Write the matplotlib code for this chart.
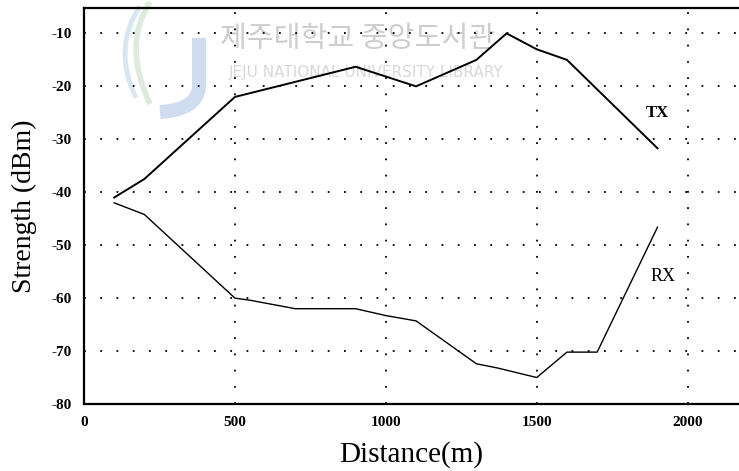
import matplotlib
matplotlib.use("Agg")
import matplotlib.pyplot as plt
from matplotlib.path import Path
from matplotlib.patches import PathPatch

plt.rcParams["axes.unicode_minus"] = False

# Received signal strength along the measurement route
tx_distance = [100, 200, 500, 900, 1100, 1300, 1400, 1500, 1600, 1900]
tx_strength = [-41, -37.5, -22, -16.3, -20, -15, -10, -13, -15, -31.7]

rx_distance = [100, 200, 500, 550, 700, 900, 1000, 1100, 1300, 1370, 1500, 1600, 1700, 1900]
rx_strength = [-42, -44.2, -60, -60.4, -62, -62, -63.3, -64.3, -72.4, -73.2, -75, -70.2, -70.2, -46.6]

x_ticks = [0, 500, 1000, 1500, 2000]
y_ticks = [-80, -70, -60, -50, -40, -30, -20, -10]

serif = ["Liberation Serif", "DejaVu Serif"]

fig = plt.figure(figsize=(7.39, 4.71), dpi=100)
ax = fig.add_axes([84 / 739, 1 - 404 / 471, 1 - 84 / 739, (404 - 8) / 471])

# library logo mark (faint), drawn in figure pixel space
W, H = 739, 471
def fig_xy(px, py):
    return (px / W, 1 - py / H)

j_path = Path([fig_xy(199, 38), fig_xy(199, 88), fig_xy(196, 110), fig_xy(160, 112)],
              [Path.MOVETO, Path.LINETO, Path.CURVE3, Path.CURVE3])
fig.patches.append(PathPatch(j_path, transform=fig.transFigure, fill=False,
                             edgecolor="#d0dcef", lw=10, capstyle="butt", zorder=-1))
sw1 = Path([fig_xy(150, 2), fig_xy(122, 45), fig_xy(150, 104)],
           [Path.MOVETO, Path.CURVE3, Path.CURVE3])
fig.patches.append(PathPatch(sw1, transform=fig.transFigure, fill=False,
                             edgecolor="#dcebdc", lw=4, zorder=-1))
sw2 = Path([fig_xy(140, 6), fig_xy(112, 48), fig_xy(136, 98)],
           [Path.MOVETO, Path.CURVE3, Path.CURVE3])
fig.patches.append(PathPatch(sw2, transform=fig.transFigure, fill=False,
                             edgecolor="#d8e6f2", lw=3.5, zorder=-1))

ax.set_facecolor("none")
ax.plot(tx_distance, tx_strength, color="black", lw=1.4, zorder=3)
ax.plot(rx_distance, rx_strength, color="black", lw=1.0, zorder=3)

ax.set_xlim(0, 2170)
ax.set_ylim(-80, -5.2)
ax.set_xticks(x_ticks)
ax.set_yticks(y_ticks)

# dotted grid at major ticks (skip the bottom/left edge lines)
for x in x_ticks[1:]:
    ax.axvline(x, color="black", lw=1.3, linestyle=(0, (1, 8)), zorder=1)
for y in y_ticks[1:]:
    ax.axhline(y, color="black", lw=1.3, linestyle=(0, (1, 8)), zorder=1)

for s in ("left", "bottom", "top"):
    ax.spines[s].set_linewidth(1.6)
ax.spines["right"].set_visible(False)

ax.tick_params(length=0, pad=9)
for lab in ax.get_xticklabels() + ax.get_yticklabels():
    lab.set_fontfamily(serif)
    lab.set_fontweight("bold")
    lab.set_fontsize(11)

ax.set_xlabel("Distance(m)", fontfamily=serif, fontsize=21, labelpad=8)
ax.set_ylabel("Strength (dBm)", fontfamily=serif, fontsize=20, labelpad=10)

ax.text(1900, -25, "TX", fontfamily=serif, fontweight="bold", fontsize=12,
        ha="center", va="center")
ax.text(1918, -56, "RX", fontfamily=serif, fontsize=13, ha="center", va="center")

# library watermark
fig.text(358 / W, 1 - 39 / H, "제주대학교 중앙도서관", color="#cdcdcd",
         fontfamily=["Noto Sans CJK KR"], fontsize=21,
         ha="center", va="center", zorder=-1)
fig.text(366 / W, 1 - 72 / H, "JEJU NATIONAL UNIVERSITY LIBRARY", color="#d8d8d8",
         fontfamily=["DejaVu Sans"], fontsize=11, ha="center", va="center", zorder=-1)

fig.savefig("out.png", dpi=100)
